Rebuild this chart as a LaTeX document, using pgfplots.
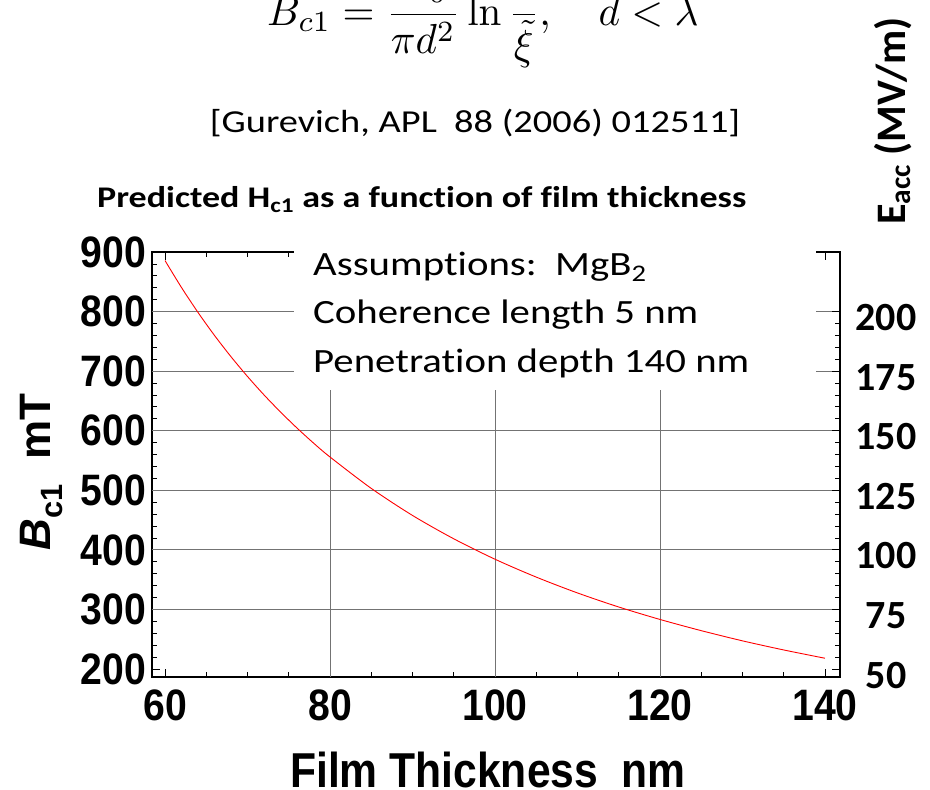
\documentclass[border=0pt]{standalone}
\usepackage[no-math]{fontspec}
\usepackage{graphicx}
\usepackage{pgfplots}
\pgfplotsset{compat=1.18}
\setmainfont{Carlito}[Ligatures=NoCommon]
\newfontfamily\calst{Carlito}[FakeStretch=1.2, Ligatures=NoCommon]
\newfontfamily\hel{Liberation Sans}[FakeStretch=0.89]
\newfontfamily\helx{Liberation Sans}[FakeStretch=0.87]
\newfontfamily\heln{Liberation Sans}
\newcommand\fs[1]{\fontsize{#1}{#1}\selectfont}
\begin{document}
\begin{tikzpicture}
\clip (0pt,0pt) rectangle (930pt,-790pt);
\fill[white] (0pt,0pt) rectangle (930pt,-790pt);
\begin{axis}[
  at={(152pt,-677pt)}, anchor=south west,
  scale only axis, width=688pt, height=425pt,
  xmin=58.42, xmax=141.82, ymin=186.6, ymax=900,
  xtick={60,80,...,140}, minor x tick num=3,
  ytick={200,300,...,900}, minor y tick num=4,
  xtick pos=both, xticklabel pos=bottom, ytick pos=left,
  tick align=inside,
  major tick length=8pt, minor tick length=5pt,
  every tick/.style={black, line width=0.8pt},
  axis line style={black, line width=1.1pt},
  extra x ticks={80,100,120}, extra x tick labels={},
  extra y ticks={300,400,...,800}, extra y tick labels={},
  extra tick style={grid=major, major tick length=0pt},
  major grid style={black!55, line width=0.8pt},
  /pgf/number format/assume math mode=true,
  ticklabel style={font=\hel\bfseries\fs{44}},
  yticklabel style={inner sep=0pt, xshift=-6pt},
  xticklabel style={inner sep=0pt, yshift=-13pt},
]
\addplot[red, line width=0.9pt, smooth] coordinates {
(60,885.6) (62,840.3) (64,798.5) (66,759.9) (68,724.2) (70,691.0)
(72,660.1) (74,631.4) (76,604.5) (78,579.3) (80,555.9) (85,503.2)
(90,457.8) (95,418.6) (100,384.3) (105,354.3) (110,327.7) (115,304.1)
(120,283.2) (125,264.4) (130,247.3) (135,232.0) (140,218.1)};
\end{axis}
\begin{axis}[
  at={(152pt,-677pt)}, anchor=south west,
  scale only axis, width=688pt, height=425pt,
  xmin=58.42, xmax=141.82, ymin=46.65, ymax=225,
  axis x line=none, axis y line*=right,
  ytick={50,75,...,200}, minor y tick num=4,
  tick align=inside,
  major tick length=8pt, minor tick length=5pt,
  every tick/.style={black, line width=0.8pt},
  axis line style={black, line width=1.1pt},
  /pgf/number format/assume math mode=true,
  yticklabel style={anchor=center, xshift=46pt, yshift=-6pt, font=\bfseries\fs{40}},
]
\addplot[draw=none] coordinates {(60,100) (140,100)};
\end{axis}
% legend box
\fill[white] (294pt,-236pt) rectangle (816pt,-390pt);
\node[anchor=base west, inner sep=0pt, font=\calst\fs{34}] at (313pt,-275pt) {Assumptions:\ \ MgB\textsubscript{2}};
\node[anchor=base west, inner sep=0pt, font=\calst\fs{34}] at (313pt,-323pt) {Coherence length 5 nm};
\node[anchor=base west, inner sep=0pt, font=\calst\fs{34}] at (313pt,-372pt) {Penetration depth 140 nm};
% title and citation
\node[anchor=base west, inner sep=0pt, font=\calst\bfseries\fs{30}] at (97pt,-207pt) {Predicted H\textsubscript{c1} as a function of film thickness};
\node[anchor=base, inner sep=0pt, font=\calst\fs{32}] at (475pt,-132pt) {[Gurevich, APL\ \ 88 (2006) 012511]};
% formula
\node[anchor=base west, inner sep=0pt, font=\fs{10}] at (267pt,-25pt) {\scalebox{4.1}[4.2]{$\displaystyle B_{c1}=\frac{\Phi_0}{\pi d^2}\ln\frac{d}{\tilde{\xi}},\quad d<\lambda$}};
% axis labels
\node[anchor=base, inner sep=0pt, font=\helx\bfseries\fs{49}] at (488pt,-787pt) {Film Thickness\ \ nm};
\node[anchor=base, inner sep=0pt, rotate=90, font=\heln\bfseries\fs{44}] at (50pt,-472pt) {\itshape B\upshape\textsubscript{c1}\ \ mT};
\node[anchor=base, inner sep=0pt, rotate=90, font=\bfseries\fs{42}] at (905pt,-121pt) {E\textsubscript{acc} (MV/m)};
\end{tikzpicture}
\end{document}
